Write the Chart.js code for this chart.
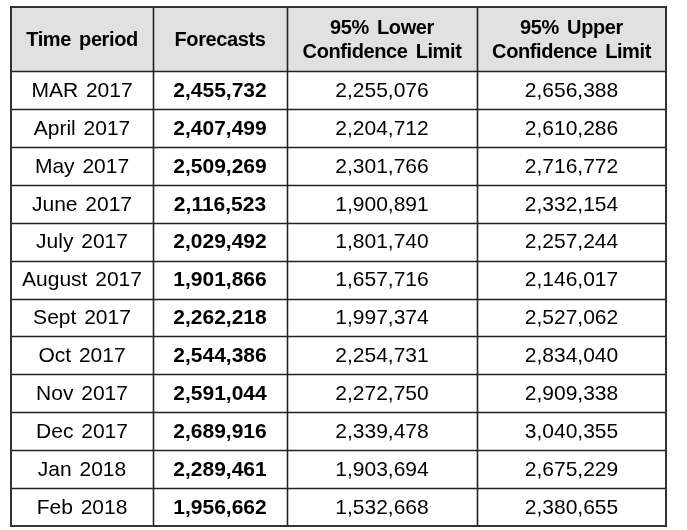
<!DOCTYPE html>
<html>
<head>
<meta charset="utf-8">
<script src="https://cdn.jsdelivr.net/npm/chart.js@4"></script>
<style>
  html, body { margin: 0; padding: 0; background: #fff; }
  #wrap { width: 687px; height: 530px; }
</style>
</head>
<body>
<div id="wrap"><canvas id="tbl" width="687" height="530"></canvas></div>
<script>
/* ── Data ───────────────────────────────────────────────────────── */
const headers   = [['Time period'], ['Forecasts'], ['95% Lower', 'Confidence Limit'], ['95% Upper', 'Confidence Limit']];
const periods   = ['MAR 2017', 'April 2017', 'May 2017', 'June 2017', 'July 2017', 'August 2017',
                   'Sept 2017', 'Oct 2017', 'Nov 2017', 'Dec 2017', 'Jan 2018', 'Feb 2018'];
const forecasts = [2455732, 2407499, 2509269, 2116523, 2029492, 1901866,
                   2262218, 2544386, 2591044, 2689916, 2289461, 1956662];
const lower95   = [2255076, 2204712, 2301766, 1900891, 1801740, 1657716,
                   1997374, 2254731, 2272750, 2339478, 1903694, 1532668];
const upper95   = [2656388, 2610286, 2716772, 2332154, 2257244, 2146017,
                   2527062, 2834040, 2909338, 3040355, 2675229, 2380655];

/* ── Layout (scale units = px inside the chart area) ────────────── */
const colWidths = [142, 134, 190, 189];
const headH     = 64;
const rowH      = 37.9;

const colEdges = colWidths.reduce((a, w) => (a.push(a[a.length - 1] + w), a), [0]);
const rowEdges = [0, headH];
periods.forEach(() => rowEdges.push(rowEdges[rowEdges.length - 1] + rowH));

const fmt = n => n.toLocaleString('en-US');
const FONT = '"Liberation Sans", Arial, sans-serif';

function cellText(r, c) {
  if (c === 0) return periods[r];
  if (c === 1) return fmt(forecasts[r]);
  if (c === 2) return fmt(lower95[r]);
  return fmt(upper95[r]);
}

/* ── Table plugin: draws cells through the x/y scales ───────────── */
const tablePlugin = {
  id: 'table',
  afterDraw(chart) {
    const { ctx, scales: { x, y } } = chart;
    const px = v => x.getPixelForValue(v);
    const py = v => y.getPixelForValue(v);
    const last = rowEdges[rowEdges.length - 1];

    ctx.save();
    // header background
    ctx.fillStyle = '#e1e1e1';
    ctx.fillRect(px(0), py(0), px(colEdges[4]) - px(0), py(headH) - py(0));

    // grid lines
    ctx.strokeStyle = '#222';
    ctx.lineWidth = 1.6;
    ctx.beginPath();
    colEdges.slice(1, -1).forEach(v => {
      ctx.moveTo(Math.round(px(v)) + 0.5, py(0));
      ctx.lineTo(Math.round(px(v)) + 0.5, py(last));
    });
    rowEdges.slice(1, -1).forEach(v => {
      ctx.moveTo(px(0), Math.round(py(v)) + 0.5);
      ctx.lineTo(px(colEdges[4]), Math.round(py(v)) + 0.5);
    });
    ctx.stroke();

    // outer border
    ctx.lineWidth = 2;
    ctx.strokeStyle = '#333';
    ctx.strokeRect(px(0), py(0), px(colEdges[4]) - px(0), py(last) - py(0));

    ctx.textAlign = 'center';
    ctx.textBaseline = 'middle';
    ctx.fillStyle = '#000';

    // header
    ctx.font = 'bold 20px ' + FONT;
    if ('letterSpacing' in ctx) ctx.letterSpacing = '-0.4px';
    if ('wordSpacing' in ctx) ctx.wordSpacing = '3px';
    headers.forEach((lines, c) => {
      const cx = (px(colEdges[c]) + px(colEdges[c + 1])) / 2;
      const cy = (py(0) + py(headH)) / 2 + 1;
      lines.forEach((t, i) => {
        const off = (i - (lines.length - 1) / 2) * 24;
        ctx.fillText(t, cx, cy + off);
      });
    });

    // body
    if ('letterSpacing' in ctx) ctx.letterSpacing = '0px';
    periods.forEach((_, r) => {
      const cy = (py(rowEdges[r + 1]) + py(rowEdges[r + 2])) / 2 + 1;
      for (let c = 0; c < 4; c++) {
        const cx = (px(colEdges[c]) + px(colEdges[c + 1])) / 2;
        ctx.font = (c === 1 ? 'bold ' : '') + '21px ' + FONT;
        if ('wordSpacing' in ctx) ctx.wordSpacing = c === 0 ? '2px' : '0px';
        ctx.fillText(cellText(r, c), cx, cy);
      }
    });
    ctx.restore();
  }
};

new Chart(document.getElementById('tbl'), {
  type: 'scatter',
  data: { datasets: [{ data: [] }] },
  options: {
    responsive: false,
    animation: false,
    layout: { padding: { left: 11, top: 7, right: 21, bottom: 4 } },
    plugins: { legend: { display: false }, tooltip: { enabled: false } },
    scales: {
      x: { type: 'linear', display: false, min: 0, max: colEdges[4] },
      y: { type: 'linear', display: false, reverse: true, min: 0, max: rowEdges[rowEdges.length - 1] },
    },
  },
  plugins: [tablePlugin],
});
</script>
</body>
</html>
